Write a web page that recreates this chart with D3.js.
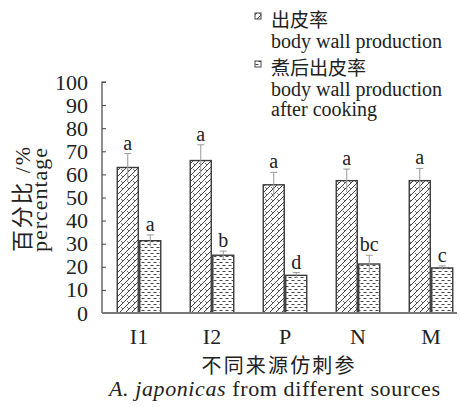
<!DOCTYPE html>
<html>
<head>
<meta charset="utf-8">
<script src="https://cdn.jsdelivr.net/npm/d3@7"></script>
<style>
  body { margin: 0; background: #fff; }
  text { fill: #222; }
</style>
</head>
<body>
<div id="chart"></div>
<script>
// data
const categories = ['I1', 'I2', 'P', 'N', 'M'];
const production = [63, 66, 55.5, 57.3, 57.3];
const productionErr = [6, 6.8, 5.4, 5, 5.3];
const productionSig = ['a', 'a', 'a', 'a', 'a'];
const cooked = [31.3, 25, 16.3, 21.2, 19.5];
const cookedErr = [2.5, 1.8, 1.2, 3.8, 0.9];
const cookedSig = ['a', 'b', 'd', 'bc', 'c'];
const yTicks = [0, 10, 20, 30, 40, 50, 60, 70, 80, 90, 100];

const WIDTH = 460;
const HEIGHT = 407;
const SERIF = '"Liberation Serif", "Times New Roman", "Noto Sans CJK SC", serif';
const CJK = '"Noto Sans CJK SC", sans-serif';

const svg = d3.select('#chart')
  .append('svg')
  .attr('width', WIDTH)
  .attr('height', HEIGHT)
  .attr('font-family', SERIF);

// patterns
const defs = svg.append('defs');
const hatch = defs.append('pattern')
  .attr('id', 'hatch')
  .attr('patternUnits', 'userSpaceOnUse')
  .attr('width', 6).attr('height', 6);
hatch.append('path')
  .attr('d', 'M-1,7 L7,-1 M-1,1 L1,-1 M5,7 L7,5')
  .attr('stroke', '#444').attr('stroke-width', 1);
hatch.append('path')
  .attr('d', 'M1,1 L3,3')
  .attr('stroke', '#666').attr('stroke-width', 0.9);

const dash = defs.append('pattern')
  .attr('id', 'dash')
  .attr('patternUnits', 'userSpaceOnUse')
  .attr('width', 6).attr('height', 6);
dash.append('path')
  .attr('d', 'M0.5,1.5 L3.5,1.5 M3.5,4.5 L6.5,4.5 M-2.5,4.5 L0.5,4.5')
  .attr('stroke', '#444').attr('stroke-width', 1);

// scales
const y = d3.scaleLinear().domain([0, 100]).range([313, 82]);
const x = d3.scalePoint().domain(categories).range([139, 431]);
const barW = 21;
const gap = 1.5;

// y axis
const yAxis = svg.append('g')
  .attr('transform', 'translate(102,0)')
  .call(d3.axisRight(y).tickValues(yTicks).tickSize(4).tickFormat(''));
yAxis.select('.domain').attr('stroke', '#444').attr('stroke-width', 1.2)
  .attr('d', `M4,${y(100)}H0V${y(0)}`);
yAxis.selectAll('.tick line').attr('stroke', '#444');

svg.append('g')
  .selectAll('text')
  .data(yTicks)
  .join('text')
  .attr('x', 88)
  .attr('y', (d) => y(d) + 7.5)
  .attr('text-anchor', 'end')
  .attr('font-size', 22)
  .text((d) => d);

function drawSeries(values, errs, sigs, offset, fill) {
  const g = svg.append('g');
  g.selectAll('rect')
    .data(values)
    .join('rect')
    .attr('x', (d, i) => x(categories[i]) + offset)
    .attr('y', (d) => y(d))
    .attr('width', barW)
    .attr('height', (d) => y(0) - y(d))
    .attr('fill', fill)
    .attr('stroke', '#3a3a3a')
    .attr('stroke-width', 1.4);
  // error bars
  g.selectAll('path.err')
    .data(values)
    .join('path')
    .attr('class', 'err')
    .attr('d', (d, i) => {
      const cx = x(categories[i]) + offset + barW / 2;
      return `M${cx},${y(d - errs[i])}V${y(d + errs[i])}M${cx - 3.5},${y(d + errs[i])}H${cx + 3.5}`;
    })
    .attr('fill', 'none')
    .attr('stroke', '#999')
    .attr('stroke-width', 1);
  g.selectAll('text')
    .data(values)
    .join('text')
    .attr('x', (d, i) => x(categories[i]) + offset + barW / 2)
    .attr('y', (d, i) => y(d + errs[i]) - 4)
    .attr('text-anchor', 'middle')
    .attr('font-size', 20)
    .text((d, i) => sigs[i]);
}

drawSeries(production, productionErr, productionSig, -barW - gap / 2, 'url(#hatch)');
drawSeries(cooked, cookedErr, cookedSig, gap / 2, 'url(#dash)');

// x axis line
svg.append('line')
  .attr('x1', 102).attr('x2', 457)
  .attr('y1', y(0)).attr('y2', y(0))
  .attr('stroke', '#777').attr('stroke-width', 2);

svg.append('g')
  .selectAll('text')
  .data(categories)
  .join('text')
  .attr('x', (d) => x(d))
  .attr('y', 344)
  .attr('text-anchor', 'middle')
  .attr('font-size', 22)
  .text((d) => d);

svg.append('text')
  .attr('x', 278).attr('y', 373)
  .attr('text-anchor', 'middle')
  .attr('font-size', 20)
  .attr('font-family', CJK)
  .attr('textLength', 153)
  .text('不同来源仿刺参');

const xTitle = svg.append('text')
  .attr('x', 109).attr('y', 396)
  .attr('font-size', 22)
  .attr('textLength', 331)
  .attr('lengthAdjust', 'spacing');
xTitle.append('tspan').attr('font-style', 'italic').text('A. japonicas');
xTitle.append('tspan').text(' from different sources');

// y title
const yTitle = svg.append('g').attr('transform', 'translate(0,252) rotate(-90)');
yTitle.append('text')
  .attr('x', 0).attr('y', 30)
  .attr('font-size', 22)
  .attr('textLength', 105)
  .text('百分比 /%');
yTitle.append('text')
  .attr('x', 0).attr('y', 47)
  .attr('font-size', 22)
  .attr('textLength', 104)
  .text('percentage');

// legend
const legendItems = [
  { fill: 'url(#hatch)', lines: ['出皮率', 'body wall production'], y: 27 },
  { fill: 'url(#dash)', lines: ['煮后出皮率', 'body wall production', 'after cooking'], y: 75 }
];
const legend = svg.append('g');
legendItems.forEach((item) => {
  legend.append('rect')
    .attr('x', 255).attr('y', item.y - 14)
    .attr('width', 6).attr('height', 6)
    .attr('fill', item.fill)
    .attr('stroke', '#444').attr('stroke-width', 1);
  item.lines.forEach((t, i) => {
    legend.append('text')
      .attr('x', 271)
      .attr('y', item.y + i * 20.5)
      .attr('font-size', i === 0 ? 19 : 20)
      .attr('font-family', i === 0 ? CJK : SERIF)
      .text(t);
  });
});
</script>
</body>
</html>
